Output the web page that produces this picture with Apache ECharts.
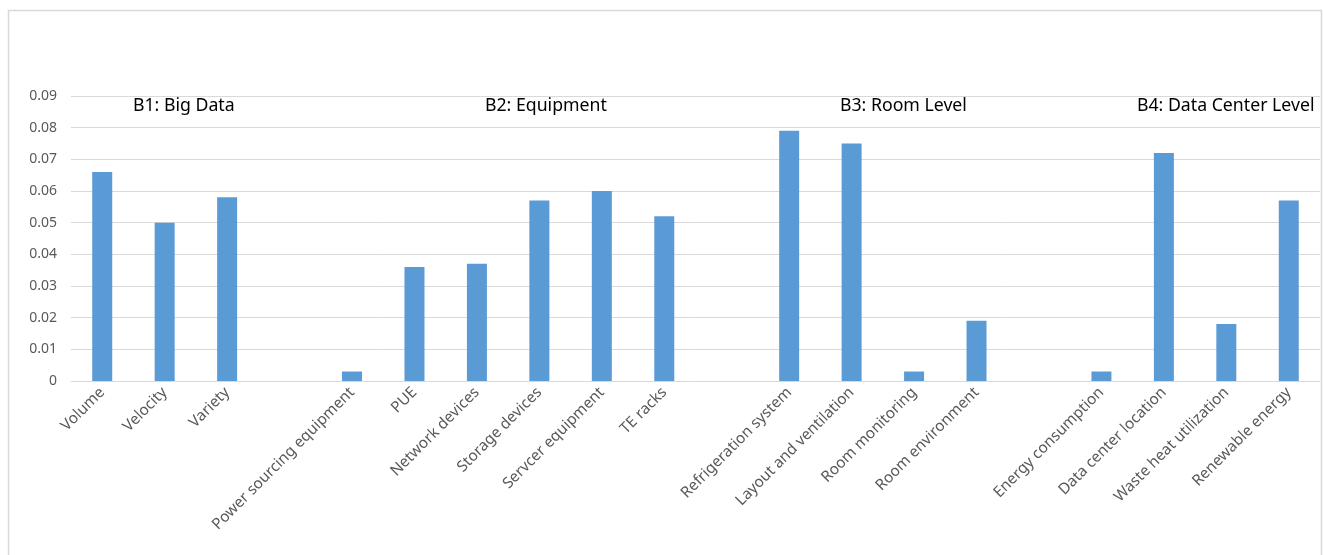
<!DOCTYPE html>
<html><head><meta charset="utf-8">
<script src="https://cdn.jsdelivr.net/npm/echarts@6/dist/echarts.min.js"></script>
<style>html,body{margin:0;padding:0;background:#fff}#c{width:1323px;height:555px}</style>
</head><body><div id="c"></div>
<script>
const categories = ["Volume","Velocity","Variety","","Power sourcing equipment","PUE","Network devices","Storage devices","Servcer equipment","TE racks","","Refrigeration system","Layout and ventilation","Room monitoring","Room environment","","Energy consumption","Data center location","Waste heat utilization","Renewable energy"];
const values = [0.066,0.050,0.058,null,0.003,0.036,0.037,0.057,0.060,0.052,null,0.079,0.075,0.003,0.019,null,0.003,0.072,0.018,0.057];
const yTicks = [0,0.01,0.02,0.03,0.04,0.05,0.06,0.07,0.08,0.09];
const groupLabels = ["B1: Big Data","B2: Equipment","B3: Room Level","B4: Data Center Level"];
const groupLabelX = [133,485,840,1137];

const chart = echarts.init(document.getElementById('c'), null, {renderer:'canvas'});
const font = "'Noto Sans', 'Open Sans', sans-serif";
chart.setOption({
  animation:false,
  backgroundColor:'#fff',
  grid:{left:71,right:3,top:96,bottom:174,containLabel:false},
  xAxis:{type:'category',data:categories,
    axisLine:{show:true,lineStyle:{color:'#D9D9D9',width:1}},
    axisTick:{show:false},
    axisLabel:{interval:0,rotate:45,color:'#595959',fontSize:15.3,fontFamily:font,margin:9}
  },
  yAxis:{type:'value',min:yTicks[0],max:yTicks[yTicks.length-1],interval:0.01,
    axisLine:{show:false},axisTick:{show:false},
    splitLine:{lineStyle:{color:'#D9D9D9',width:1}},
    axisLabel:{color:'#595959',fontSize:14,fontFamily:font,margin:14,
      formatter:function(v){return String(+v.toFixed(2));}}
  },
  series:[{type:'bar',data:values,barWidth:20,itemStyle:{color:'#5B9BD5'}}],
  graphic:[
    {type:'rect',left:6,top:8,shape:{width:1313,height:560},silent:true,z:-1,
      style:{fill:null,stroke:'#D9D9D9',lineWidth:1.5}}
  ].concat(groupLabels.map(function(t,i){
    return {type:'text',left:groupLabelX[i],top:97,style:{text:t,fill:'#000',fontSize:17.7,fontFamily:font}};
  }))
});
</script></body></html>
